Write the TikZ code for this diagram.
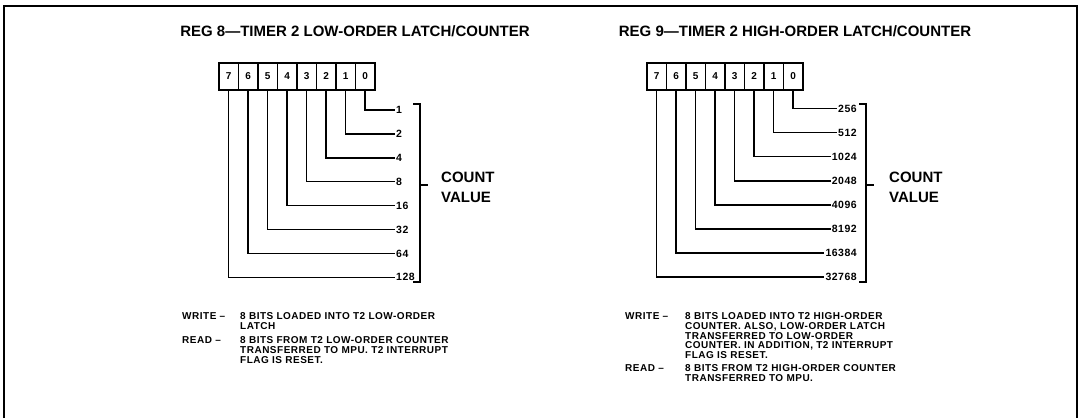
\documentclass[tikz,border=0pt]{standalone}
\usepackage{fontspec}
\setmainfont{Liberation Sans}
\newfontfamily\bodyf{Liberation Sans}[LetterSpace=5]
\begin{document}
\begin{tikzpicture}[x=1pt,y=-1pt,
  cell/.style={draw,line width=1.6pt,minimum width=19.5pt,minimum height=27pt,inner sep=0pt,anchor=north west,font=\fontsize{10}{10}\bfseries},
  wire/.style={line width=1.5pt},
  num/.style={inner sep=1pt,font=\bodyf\fontsize{10.5}{10.5}\bfseries},
  title/.style={font=\fontsize{15}{16}\bfseries},
  count/.style={align=left,anchor=west,inner sep=0pt,font=\fontsize{15}{20}\bfseries},
  body/.style={align=left,anchor=north west,inner sep=0pt,font=\bodyf\fontsize{10}{9.7}\selectfont\bfseries}]
\useasboundingbox (0,0) rectangle (1078,418);
% frame
\draw[line width=1.5pt] (4,418) -- (4,6) -- (1077,6) -- (1077,418);
% titles
\node[title] (t8) at (355,31) {REG 8—TIMER 2 LOW-ORDER LATCH/COUNTER};
\node[title] (t9) at (795,31) {REG 9—TIMER 2 HIGH-ORDER LATCH/COUNTER};
% register cells
\foreach \b [evaluate=\b as \i using {7-\b}] in {7,6,5,4,3,2,1,0} {
  \node[cell] (L\b) at ({218+\i*19.5},62) {\b};
  \node[cell] (R\b) at ({646+\i*19.5},62) {\b};
}
% count value labels and wires
\foreach \b/\v in {0/1,1/2,2/4,3/8,4/16,5/32,6/64,7/128} {
  \node[num,anchor=west] (lv\b) at (395,{110+\b*23.9}) {\v};
  \draw[wire] (L\b.south) |- (lv\b.west);
}
\foreach \b/\v in {0/256,1/512,2/1024,3/2048,4/4096,5/8192,6/16384,7/32768} {
  \node[num,anchor=east] (rv\b) at (858,{108.5+\b*24.1}) {\v};
  \draw[wire] (R\b.south) |- (rv\b.west);
}
% brackets
\draw[wire] (413,104) -- (420,104) -- (420,282) -- (413,282);
\draw[wire] (420,185) -- (428,185);
\node[count] (cvl) at (441,187) {COUNT\\VALUE};
\draw[wire] (859,104) -- (866,104) -- (866,282) -- (859,282);
\draw[wire] (866,185) -- (874,185);
\node[count] (cvr) at (889,187) {COUNT\\VALUE};
% left notes
\node[body] (lw) at (182,312.5) {WRITE –};
\node[body] (lwt) at (240,312.5) {8 BITS LOADED INTO T2 LOW-ORDER\\LATCH};
\node[body] (lr) at (182,336.5) {READ –};
\node[body] (lrt) at (240,336.5) {8 BITS FROM T2 LOW-ORDER COUNTER\\TRANSFERRED TO MPU. T2 INTERRUPT\\FLAG IS RESET.};
% right notes
\node[body] (rw) at (625,312.5) {WRITE –};
\node[body] (rwt) at (685,312.5) {8 BITS LOADED INTO T2 HIGH-ORDER\\COUNTER. ALSO, LOW-ORDER LATCH\\TRANSFERRED TO LOW-ORDER\\COUNTER. IN ADDITION, T2 INTERRUPT\\FLAG IS RESET.};
\node[body] (rr) at (625,364.5) {READ –};
\node[body] (rrt) at (685,364.5) {8 BITS FROM T2 HIGH-ORDER COUNTER\\TRANSFERRED TO MPU.};
\end{tikzpicture}
\end{document}
